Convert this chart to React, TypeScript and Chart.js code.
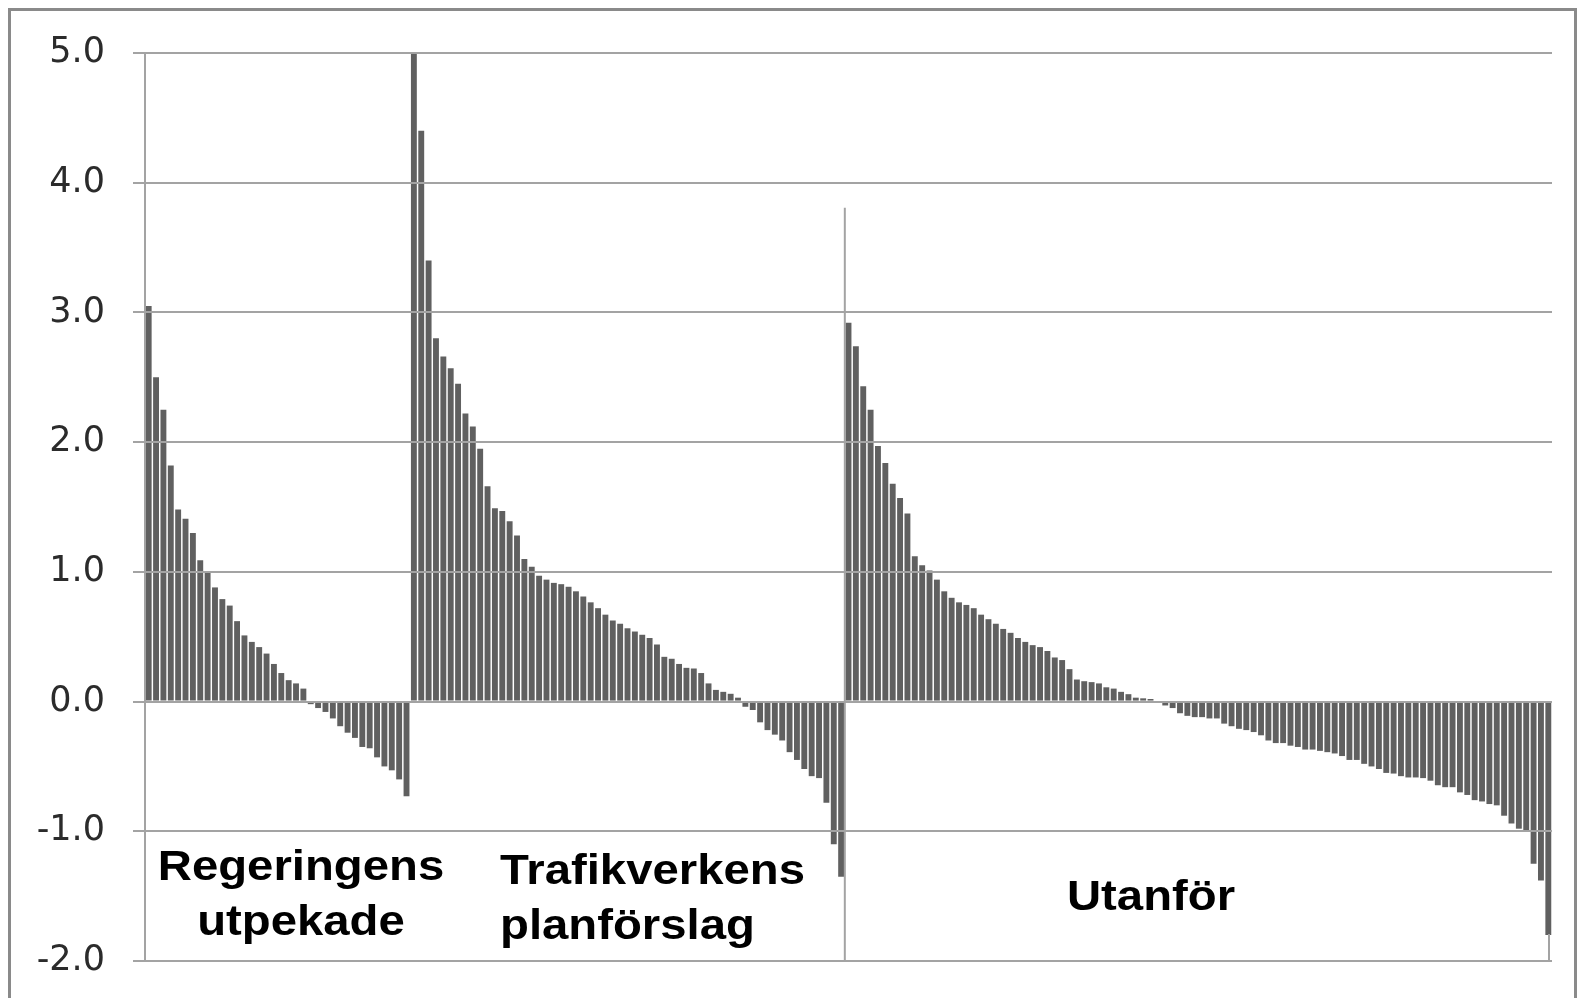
import React, { useEffect, useRef } from 'react';
import { Chart, registerables } from 'chart.js';

Chart.register(...registerables);

// ---- data ----
const regeringensValues = [
  3.05, 2.5, 2.25, 1.82, 1.48, 1.41, 1.3, 1.09, 1.0, 0.88,
  0.79, 0.74, 0.62, 0.51, 0.46, 0.42, 0.37, 0.29, 0.22, 0.165,
  0.14, 0.1, -0.02, -0.05, -0.08, -0.13, -0.19, -0.24, -0.28, -0.35,
  -0.36, -0.43, -0.5, -0.53, -0.6, -0.73,
];

const trafikverkensValues = [
  5.0, 4.4, 3.4, 2.8, 2.66, 2.57, 2.45, 2.22, 2.12, 1.95,
  1.66, 1.49, 1.47, 1.39, 1.28, 1.1, 1.04, 0.97, 0.94, 0.915,
  0.905, 0.885, 0.85, 0.81, 0.765, 0.72, 0.67, 0.625, 0.6, 0.565,
  0.54, 0.515, 0.49, 0.44, 0.345, 0.33, 0.29, 0.26, 0.255, 0.22,
  0.14, 0.09, 0.075, 0.06, 0.03, -0.04, -0.065, -0.16, -0.22, -0.255,
  -0.3, -0.39, -0.45, -0.52, -0.575, -0.59, -0.78, -1.1, -1.35,
];

const utanforValues = [
  2.92, 2.74, 2.43, 2.25, 1.97, 1.84, 1.68, 1.57, 1.45, 1.12,
  1.05, 1.01, 0.94, 0.85, 0.8, 0.765, 0.745, 0.72, 0.67, 0.635,
  0.6, 0.56, 0.53, 0.49, 0.46, 0.435, 0.42, 0.39, 0.34, 0.32,
  0.25, 0.17, 0.157, 0.15, 0.14, 0.11, 0.1, 0.075, 0.057, 0.03,
  0.025, 0.02, -0.01, -0.03, -0.05, -0.09, -0.11, -0.12, -0.12, -0.13,
  -0.13, -0.17, -0.19, -0.21, -0.22, -0.235, -0.26, -0.3, -0.32, -0.32,
  -0.34, -0.35, -0.37, -0.37, -0.38, -0.39, -0.4, -0.42, -0.45, -0.45,
  -0.48, -0.5, -0.52, -0.55, -0.555, -0.575, -0.585, -0.585, -0.59, -0.61,
  -0.645, -0.66, -0.66, -0.7, -0.72, -0.76, -0.77, -0.79, -0.8, -0.88,
  -0.94, -0.98, -0.99, -1.25, -1.38, -1.8,
];

// vertical divider lines: bar index whose left edge carries the line, and the line's top value
const dividerIndex = [
  0,
  regeringensValues.length + trafikverkensValues.length,
  regeringensValues.length + trafikverkensValues.length + utanforValues.length,
];
const dividerTop = [5.0, 3.8, -1.8];

const yMin = -2;
const yMax = 5;
const yStep = 1;

const groupLabels = [
  ['Regeringens', 'utpekade'],
  ['Trafikverkens', 'planförslag'],
  ['Utanför'],
];

const allValues = [...regeringensValues, ...trafikverkensValues, ...utanforValues];
const categories = allValues.map((_, i) => String(i + 1));

// ---- styling / layout ----
const BAR = '#606060';
const GRID = '#a3a3a3';

const labelLayout: Array<{ x: number; y: number; align: CanvasTextAlign }> = [
  { x: 301, y: 880, align: 'center' },
  { x: 500, y: 884, align: 'left' },
  { x: 1151, y: 910, align: 'center' },
];
const LINE_GAP = 55;
const TEXT_STRETCH = 1.126;

const overlayPlugin = {
  id: 'overlay',
  beforeDraw(chart: any) {
    const ctx = chart.ctx as CanvasRenderingContext2D;
    ctx.save();
    ctx.fillStyle = '#ffffff';
    ctx.fillRect(0, 0, chart.width, chart.height);
    ctx.strokeStyle = '#8a8a8a';
    ctx.lineWidth = 3;
    ctx.beginPath();
    ctx.moveTo(9.5, chart.height + 5);
    ctx.lineTo(9.5, 9.5);
    ctx.lineTo(chart.width - 3.5, 9.5);
    ctx.lineTo(chart.width - 3.5, chart.height + 5);
    ctx.stroke();
    ctx.restore();
  },
  afterDatasetsDraw(chart: any) {
    const ctx = chart.ctx as CanvasRenderingContext2D;
    const xs = chart.scales.x;
    const ys = chart.scales.y;
    const pitch = xs.getPixelForValue(1) - xs.getPixelForValue(0);
    ctx.save();
    ctx.strokeStyle = GRID;
    ctx.lineWidth = 2;
    dividerIndex.forEach((idx, i) => {
      let px = xs.getPixelForValue(idx) - pitch / 2;
      px = Math.max(chart.chartArea.left, Math.min(px, chart.chartArea.right - 3));
      ctx.beginPath();
      ctx.moveTo(px, ys.getPixelForValue(dividerTop[i]) - 1);
      ctx.lineTo(px, ys.getPixelForValue(yMin) + 1);
      ctx.stroke();
    });
    ctx.restore();
  },
  afterDraw(chart: any) {
    const ctx = chart.ctx as CanvasRenderingContext2D;
    ctx.save();
    ctx.fillStyle = '#000000';
    ctx.font = 'bold 42px "Liberation Sans", Arial, sans-serif';
    ctx.textBaseline = 'alphabetic';
    groupLabels.forEach((lines, gi) => {
      const L = labelLayout[gi];
      lines.forEach((t, li) => {
        ctx.save();
        ctx.translate(L.x, L.y + li * LINE_GAP);
        ctx.scale(TEXT_STRETCH, 1);
        ctx.textAlign = L.align;
        ctx.fillText(t, 0, 0);
        ctx.restore();
      });
    });
    ctx.restore();
  },
};

export default function App() {
  const ref = useRef<HTMLCanvasElement>(null);
  useEffect(() => {
    document.body.style.margin = '0';
    document.body.style.overflow = 'hidden';
    const canvas = ref.current!;
    const chart = new Chart(canvas, {
      type: 'bar',
      data: {
        labels: categories,
        datasets: [
          {
            data: allValues,
            backgroundColor: BAR,
            borderWidth: 0,
            barPercentage: 0.8,
            categoryPercentage: 1.0,
          },
        ],
      },
      options: {
        animation: false,
        responsive: false,
        devicePixelRatio: 1,
        layout: { padding: { left: 0, right: 27, top: 53, bottom: 37 } },
        plugins: { legend: { display: false }, tooltip: { enabled: false }, title: { display: false } },
        scales: {
          x: { display: false, offset: true },
          y: {
            min: yMin,
            max: yMax,
            afterFit: (s: any) => {
              s.width = 145;
              s.paddingTop = 0;
              s.paddingBottom = 0;
            },
            ticks: {
              stepSize: yStep,
              padding: 28,
              color: '#2b2b2b',
              font: { family: '"DejaVu Sans", sans-serif', size: 35 },
              callback: (v: any) => Number(v).toFixed(1),
            },
            grid: { color: GRID, lineWidth: 2, tickLength: 12, drawTicks: true, z: 1 },
            border: { display: false },
          },
        },
      },
      plugins: [overlayPlugin],
    });
    return () => chart.destroy();
  }, []);
  return (
    <div style={{ position: 'fixed', left: 0, top: 0, width: 1579, height: 998, overflow: 'hidden' }}>
      <canvas
        ref={ref}
        width={1579}
        height={998}
        style={{ display: 'block', width: 1579, height: 998 }}
      />
    </div>
  );
}
